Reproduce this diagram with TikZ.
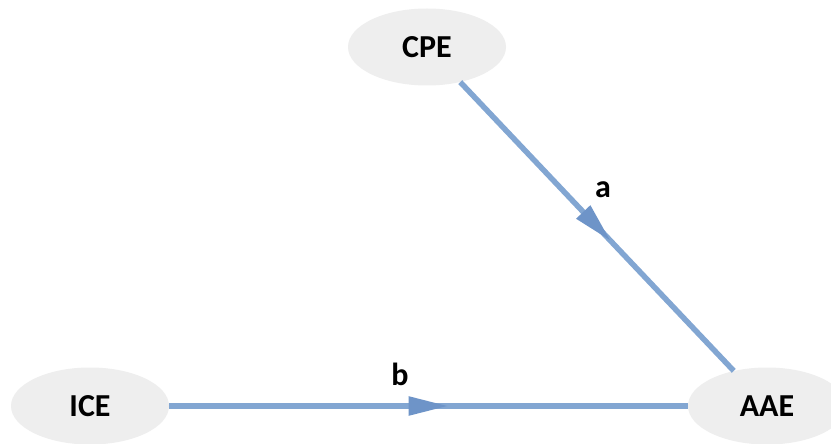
\documentclass[tikz,border=0pt]{standalone}
\usepackage{fontspec}
\setmainfont{Carlito}
\usetikzlibrary{arrows.meta, shapes.geometric, decorations.markings}
\definecolor{linkblue}{RGB}{130,166,210}
\definecolor{tipblue}{RGB}{110,148,200}
\definecolor{vargray}{RGB}{238,238,238}
\tikzset{
  var/.style={ellipse, fill=vargray, minimum width=158pt, minimum height=77pt, inner sep=0pt, font=\fontsize{32}{38}\selectfont\bfseries},
  effect/.style={line width=5.5pt, linkblue, postaction={decorate},
    decoration={markings, mark=at position 0.5 with {\arrow[tipblue, xshift=20pt]{Triangle[length=40pt, width=18pt]}}}},
  coef/.style={font=\fontsize{32}{38}\selectfont\bfseries}
}

\begin{document}
\begin{tikzpicture}[x=1pt, y=-1pt]
    \useasboundingbox[fill=white] (0,0) rectangle (831,444);

    % variables
    \node[var] (cpe) at (427,47) {CPE};
    \node[var] (ice) at (90,406) {ICE};
    \node[var] (aae) at (767,406) {AAE};

    % paths
    \draw[effect] (cpe) -- (aae);
    \draw[effect] (ice) -- (aae);

    \node[coef] (a) at (603,190) {a};
    \node[coef] (b) at (400,374) {b};
\end{tikzpicture}
\end{document}
